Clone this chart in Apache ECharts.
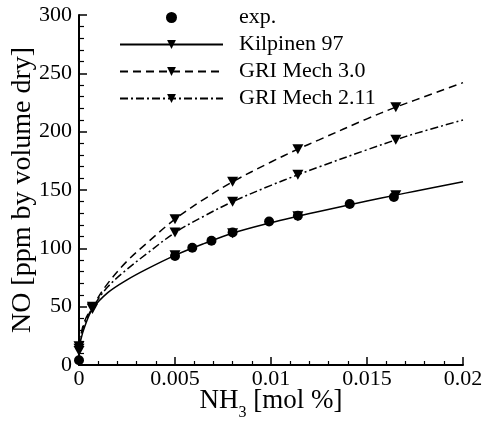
<!DOCTYPE html>
<html>
<head>
<meta charset="utf-8">
<script src="https://cdn.jsdelivr.net/npm/echarts@6/dist/echarts.min.js"></script>
<style>html,body{margin:0;padding:0;background:#fff}#c{width:487px;height:425px}</style>
</head>
<body>
<div id="c"></div>
<script>
// ---- data ----
const modelX   = [0, 0.0001, 0.0003, 0.0007, 0.0015, 0.0025, 0.0035, 0.005, 0.0065, 0.008, 0.01, 0.0114, 0.0125, 0.015, 0.0165, 0.0175, 0.02];
const kilpinen = [12, 22, 33, 48, 62, 73, 82, 94, 104, 113, 122, 127.5, 131.6, 140.5, 145.6, 149, 157];
const gri30    = [16, 26, 38, 50, 70, 89, 104, 125, 142, 157, 174, 185, 193, 211, 221, 227, 242];
const gri211   = [14, 24, 36, 49, 67, 82, 95, 113.5, 127.5, 140, 154, 163, 169.8, 184.5, 193, 198.3, 210];
const markerIdx = [0, 3, 7, 9, 11, 14];
const expX = [0, 0.005, 0.0059, 0.0069, 0.008, 0.0099, 0.0114, 0.0141, 0.0164];
const expY = [4, 93.5, 100.5, 106.5, 113.5, 123, 128, 138, 144];
const xTickValues = [0, 0.005, 0.01, 0.015, 0.02];
const xTickLabels = ['0', '0.005', '0.01', '0.015', '0.02'];
const seriesNames = ['exp.', 'Kilpinen 97', 'GRI Mech 3.0', 'GRI Mech 2.11'];

const FONT = "'Liberation Serif','Times New Roman',serif";
const TRI = 'path://M0,0L10,0L5,9Z';

function modelData(ys) {
  return modelX.map((x, i) => markerIdx.includes(i)
    ? { value: [x, ys[i]] }
    : { value: [x, ys[i]], symbol: 'none' });
}
function lineSeries(name, ys, type) {
  return {
    name, type: 'line', data: modelData(ys),
    smooth: 0.35,
    symbol: TRI, symbolSize: [11, 10], showSymbol: true,
    color: '#000',
    itemStyle: { color: '#000', opacity: 1 },
    lineStyle: { color: '#000', width: 1.5, type: type },
    z: 2
  };
}

const chart = echarts.init(document.getElementById('c'), null, { renderer: 'canvas' });
chart.setOption({
  animation: false,
  backgroundColor: '#fff',
  textStyle: { fontFamily: FONT },
  grid: { left: 79, right: 24, top: 15, bottom: 60, containLabel: false, outerBoundsMode: 'none' },
  legend: {
    data: seriesNames,
    orient: 'vertical',
    left: 119, top: 4, padding: 0,
    itemWidth: 103, itemHeight: 11, itemGap: 0,
    textStyle: { fontFamily: FONT, fontSize: 22, color: '#000', lineHeight: 27, padding: [0, 0, 0, 11] },
    inactiveColor: '#000'
  },
  xAxis: {
    type: 'value', min: 0, max: 0.02, interval: 0.005,
    name: '{n|NH}{s|3}{n| [mol %]}',
    nameLocation: 'middle', nameGap: 16, nameMoveOverlap: false,
    nameTextStyle: {
      fontFamily: FONT, color: '#000',
      rich: {
        n: { fontFamily: FONT, fontSize: 27, color: '#000', lineHeight: 40 },
        s: { fontFamily: FONT, fontSize: 16, color: '#000', lineHeight: 14, verticalAlign: 'bottom' }
      }
    },
    axisLine: { onZero: false, lineStyle: { color: '#000', width: 2 } },
    axisTick: { inside: true, length: 8, lineStyle: { color: '#000', width: 1.5 } },
    minorTick: { show: true, splitNumber: 5, length: 4, lineStyle: { color: '#000', width: 1.2 } },
    splitLine: { show: false },
    axisLabel: {
      fontFamily: FONT, fontSize: 22, color: '#000', margin: 3,
      formatter: v => { const i = xTickValues.findIndex(t => Math.abs(t - v) < 1e-9); return i >= 0 ? xTickLabels[i] : ''; }
    }
  },
  yAxis: {
    type: 'value', min: 0, max: 300, interval: 50,
    name: 'NO [ppm by volume dry]',
    nameLocation: 'middle', nameGap: 42, nameMoveOverlap: false,
    nameTextStyle: { fontFamily: FONT, fontSize: 28, color: '#000' },
    axisLine: { show: true, onZero: false, lineStyle: { color: '#000', width: 2 } },
    axisTick: { show: true, inside: true, length: 8, lineStyle: { color: '#000', width: 1.5 } },
    minorTick: { show: true, splitNumber: 5, length: 5, lineStyle: { color: '#000', width: 1.2 } },
    splitLine: { show: false },
    axisLabel: { fontFamily: FONT, fontSize: 22, color: '#000', margin: 7 }
  },
  series: [
    {
      name: seriesNames[0], type: 'scatter',
      data: expX.map((x, i) => [x, expY[i]]),
      symbol: 'circle', symbolSize: 10,
      itemStyle: { color: '#000', opacity: 1 }, z: 3
    },
    lineSeries(seriesNames[1], kilpinen, 'solid'),
    lineSeries(seriesNames[2], gri30, [8, 5]),
    lineSeries(seriesNames[3], gri211, [8, 3, 2, 3])
  ]
});
</script>
</body>
</html>
